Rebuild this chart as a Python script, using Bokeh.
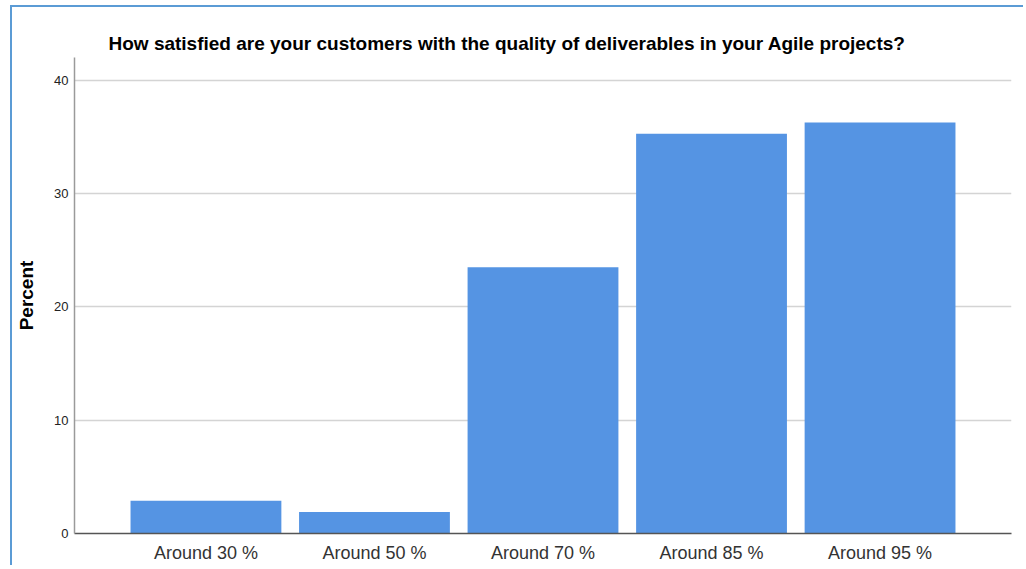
from bokeh.plotting import figure
from bokeh.models import FactorRange, Range1d, FixedTicker, ColumnDataSource
from bokeh.embed import file_html
from bokeh.resources import INLINE

title_text = "How satisfied are your customers with the quality of deliverables in your Agile projects?"
categories = ["Around 30 %", "Around 50 %", "Around 70 %", "Around 85 %", "Around 95 %"]
percents = [2.9, 1.9, 23.5, 35.3, 36.3]
y_ticks = [0, 10, 20, 30, 40]

src = ColumnDataSource(dict(cat=categories, pct=percents))

p = figure(
    frame_width=937, frame_height=476,
    x_range=FactorRange(factors=categories, range_padding=0.28, range_padding_units="absolute"),
    y_range=Range1d(0, 42.03),
    output_backend="svg", toolbar_location=None,
    min_border_left=62, min_border_right=12, min_border_top=50, min_border_bottom=20,
)
p.styles = {"margin-left": "10px", "margin-top": "5px",
            "border-left": "2px solid #5b9bd5", "border-top": "2px solid #5b9bd5"}

p.vbar(x="cat", top="pct", width=0.895, source=src, fill_color="#5594e3", line_color=None)

p.title.text = title_text
p.title.text_font = "Liberation Sans"
p.title.text_font_size = "19px"
p.title.text_font_style = "bold"
p.title.text_color = "#000000"
p.title.align = "left"
p.title.offset = 34
p.title.standoff = 7

p.outline_line_color = None
p.xgrid.grid_line_color = None
p.ygrid.grid_line_color = "#d4d4d4"
p.ygrid.grid_line_width = 1.5
p.ygrid.ticker = FixedTicker(ticks=y_ticks)

p.yaxis.ticker = FixedTicker(ticks=y_ticks)
p.yaxis.axis_label = "Percent"
p.yaxis.axis_label_text_font = "Liberation Sans"
p.yaxis.axis_label_text_font_size = "19px"
p.yaxis.axis_label_text_font_style = "bold"
p.yaxis.axis_label_text_color = "#000000"
p.yaxis.axis_label_standoff = 14
p.yaxis.major_label_text_font = "Liberation Sans"
p.yaxis.major_label_text_font_size = "13px"
p.yaxis.major_label_text_color = "#222222"
p.yaxis.major_label_standoff = 6
p.yaxis.major_tick_out = 0
p.yaxis.major_tick_in = 0
p.yaxis.major_tick_line_color = None
p.yaxis.minor_tick_line_color = None
p.yaxis.axis_line_color = "#9a9a9a"
p.yaxis.axis_line_width = 1.5

p.xaxis.major_label_text_font = "Liberation Sans"
p.xaxis.major_label_text_font_size = "18px"
p.xaxis.major_label_text_color = "#333333"
p.xaxis.major_label_standoff = 3
p.xaxis.major_tick_line_color = None
p.xaxis.minor_tick_line_color = None
p.xaxis.axis_line_color = "#555555"
p.xaxis.axis_line_width = 1.5

open("out.html", "w").write(file_html(p, INLINE))
